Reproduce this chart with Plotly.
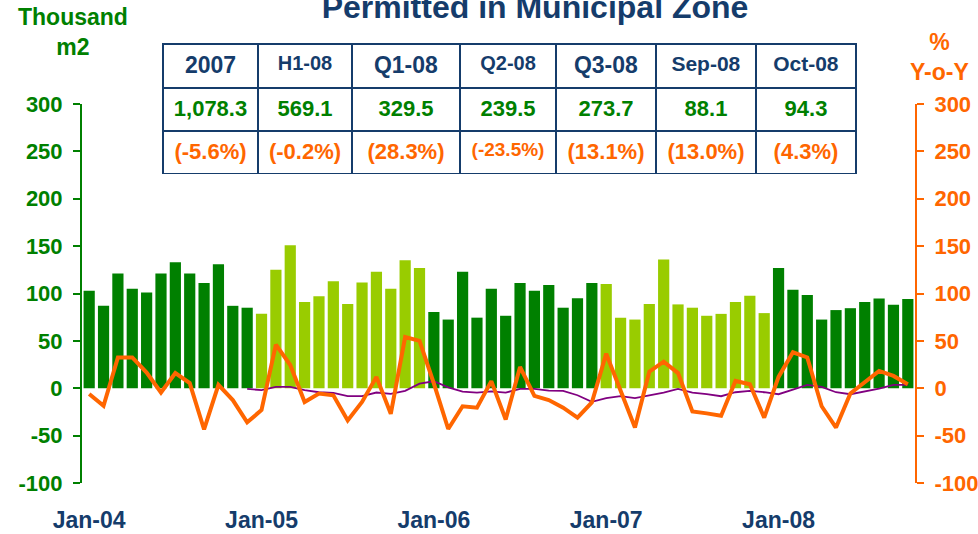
import plotly.graph_objects as go

# monthly series, Jan-04 .. Oct-08
months = [f"{m}-{y:02d}" for y in range(4, 9) for m in
          ["Jan", "Feb", "Mar", "Apr", "May", "Jun", "Jul", "Aug", "Sep", "Oct", "Nov", "Dec"]][:58]

# building permits, thousand m2
permits = [
    103, 87, 121, 105, 101, 121, 133, 121, 111, 131, 87, 85,
    78.5, 125, 151, 91, 97, 113, 89, 111.5, 123, 105, 135, 127,
    80.5, 72.5, 123, 74.5, 105, 76.5, 111, 103, 109, 85, 95, 111,
    110, 74.5, 72.5, 89, 136, 88.5, 85, 76.5, 78.5, 91, 97.5, 79.3,
    127, 104, 98.5, 72.5, 82.5, 84.5, 91, 94.6, 88.1, 94.3,
]

# y-o-y change, %
yoy = [
    -6, -18.5, 32.5, 32.5, 16.5, -4.5, 16, 5.5, -43.5, 3.5, -12.5, -36,
    -23, 46, 24.5, -14.5, -5.5, -7.5, -34, -14.5, 12, -27, 54, 50,
    5, -43, -19, -20.5, 7.5, -33, 22.5, -8, -12.5, -20.5, -31, -15,
    36.5, -2, -41.5, 17.5, 28, 16, -24.5, -26.5, -29, 7.7, 4.2, -31,
    12, 38, 32.5, -19, -41.5, -5.5, 6.5, 18.3, 13.0, 4.3,
]

# 12-month cumulative y-o-y, %
yoy_12m = [None] * 11 + [
    -0.7,
    -2, 1.4, 1.4, -2, -4.2, -5, -8.4, -8.4, -4.5, -6, -2.8, 4.9,
    7.4, 1, -3.5, -4.6, -3.2, -4.6, -0.7, -0.7, -2.5, -2.8, -7.4, -14.4,
    -10.5, -8.4, -10.5, -7.4, -4.6, -0.7, -4.6, -6.3, -8.4, -4.2, -2.8, -4.2,
    -6.3, -1.4, 3.5, 1.4, -4.2, -6.3, -3.5, -0.4, 3.5, 3.5,
]

# summary table
tbl_periods = ["2007", "H1-08", "Q1-08", "Q2-08", "Q3-08", "Sep-08", "Oct-08"]
tbl_values = ["1,078.3", "569.1", "329.5", "239.5", "273.7", "88.1", "94.3"]
tbl_change = ["(-5.6%)", "(-0.2%)", "(28.3%)", "(-23.5%)", "(13.1%)", "(13.0%)", "(4.3%)"]

y_ticks = list(range(-100, 301, 50))

GREEN = "#008000"
LIGHT = "#99cc00"
ORANGE = "#ff6600"
PURPLE = "#800080"
NAVY = "#153c6b"
FONT = "Arial, Liberation Sans, sans-serif"

x_idx = list(range(len(months)))
bar_colors = [GREEN if int(m[-2:]) % 2 == 0 else LIGHT for m in months]
jan_idx = [i for i, m in enumerate(months) if m.startswith("Jan")]
half_marks = [i - 0.5 for i in x_idx if i > 0 and i % 6 == 0]

# pixel layout
W, H = 978, 534
ml, mr, mt, mb = 82, 63, 26, 51
plot_w = W - ml - mr
plot_h = H - mt - mb
ydom_top = (H - mb - 104) / plot_h
zero_pos = ydom_top * 100 / 400


def px_x(v):
    return (v - ml) / plot_w


def px_y(v):
    return (H - mb - v) / plot_h


fig = go.Figure()

fig.add_trace(go.Bar(
    x=x_idx, y=permits, marker_color=bar_colors, marker_line_width=0,
    customdata=months, hovertemplate="%{customdata}: %{y}<extra></extra>",
))
fig.add_trace(go.Scatter(
    x=x_idx, y=yoy_12m, yaxis="y2", mode="lines",
    line=dict(color=PURPLE, width=1.8), hoverinfo="skip",
))
fig.add_trace(go.Scatter(
    x=x_idx, y=yoy, yaxis="y2", mode="lines",
    line=dict(color=ORANGE, width=4), customdata=months,
    hovertemplate="%{customdata}: %{y}%<extra></extra>",
))

col_w = [95, 94, 108, 96, 100, 100, 100]
tbl_x = [px_x(163), px_x(856)]
fig.add_trace(go.Table(
    domain=dict(x=tbl_x, y=[px_y(131), px_y(44)]),
    columnwidth=col_w,
    header=dict(
        values=[f"<b>{p}</b>" for p in tbl_periods],
        align="center", height=44, fill_color="white",
        line=dict(color=NAVY, width=2),
        font=dict(family=FONT, color=NAVY, size=[23, 20, 23, 20, 23, 21, 21]),
    ),
    cells=dict(
        values=[[f"<b>{v}</b>"] for v in tbl_values],
        align="center", height=43, fill_color="white",
        line=dict(color=NAVY, width=2),
        font=dict(family=FONT, color=GREEN, size=22),
    ),
))
fig.add_trace(go.Table(
    domain=dict(x=tbl_x, y=[px_y(174), px_y(131)]),
    columnwidth=col_w,
    header=dict(
        values=[f"<b>{c}</b>" for c in tbl_change],
        align="center", height=43, fill_color="white",
        line=dict(color=NAVY, width=2),
        font=dict(family=FONT, color=ORANGE,
                  size=[19 if len(c) > 7 else 22 for c in tbl_change]),
    ),
    cells=dict(values=[], height=1, line=dict(width=0)),
))

tick_font = dict(family=FONT, size=22, weight="bold")
fig.update_layout(
    width=W, height=H,
    margin=dict(l=ml, r=mr, t=mt, b=mb),
    paper_bgcolor="white", plot_bgcolor="white",
    showlegend=False, bargap=0.22,
    font=dict(family=FONT),
    title=dict(text="<b>Permitted in Municipal Zone</b>", x=535 / W, xanchor="center",
               y=1 - 7 / H, yanchor="middle", yref="container",
               font=dict(family=FONT, size=32, color=NAVY)),
    xaxis=dict(range=[-0.5, len(months) - 0.5], tickvals=jan_idx,
               ticktext=[months[i] for i in jan_idx], ticks="", showline=False,
               showgrid=False, zeroline=False, ticklabelstandoff=21, automargin=False,
               tickfont=dict(tick_font, size=23, color=NAVY)),
    xaxis2=dict(overlaying="x", anchor="free", position=zero_pos, automargin=False,
                range=[-0.5, len(months) - 0.5], tickvals=half_marks,
                ticks="outside", ticklen=8, tickwidth=1.5, tickcolor=GREEN,
                showticklabels=False, showline=True, linecolor=GREEN, linewidth=2,
                showgrid=False, zeroline=False),
    xaxis3=dict(overlaying="x", anchor="free", position=zero_pos, automargin=False,
                range=[-0.5, len(months) - 0.5], tickvals=half_marks,
                ticks="inside", ticklen=5, tickwidth=1.5, tickcolor=GREEN,
                showticklabels=False, showline=False, showgrid=False, zeroline=False),
    yaxis=dict(domain=[0, ydom_top], range=[-100, 300], automargin=False,
               tickvals=y_ticks, ticktext=[str(v) for v in y_ticks],
               ticks="outside", ticklen=7, tickcolor=GREEN, tickwidth=1.5,
               ticklabelstandoff=6,
               showline=True, linecolor=GREEN, linewidth=2,
               showgrid=False, zeroline=False,
               tickfont=dict(tick_font, color=GREEN)),
    yaxis2=dict(overlaying="y", side="right", range=[-100, 300], automargin=False,
                tickvals=y_ticks, ticktext=[str(v) for v in y_ticks],
                ticks="outside", ticklen=7, tickcolor=ORANGE, tickwidth=1.5,
                ticklabelstandoff=6,
                showline=True, linecolor=ORANGE, linewidth=2,
                showgrid=False, zeroline=False,
                tickfont=dict(tick_font, color=ORANGE)),
)

fig.add_annotation(text="<b>Thousand<br>m2</b>", x=px_x(73), y=px_y(31.5),
                   xref="paper", yref="paper", xanchor="center", yanchor="middle",
                   showarrow=False, font=dict(family=FONT, size=23, color=GREEN))
fig.add_annotation(text="<b>%<br>Y-o-Y</b>", x=px_x(939), y=px_y(57.5),
                   xref="paper", yref="paper", xanchor="center", yanchor="middle",
                   showarrow=False, font=dict(family=FONT, size=23, color=ORANGE))

# drop the default page margin so the figure sits at the window's corner
fig.write_html("out.html", config={"displayModeBar": False},
               post_script="document.body.style.margin = '0';")
